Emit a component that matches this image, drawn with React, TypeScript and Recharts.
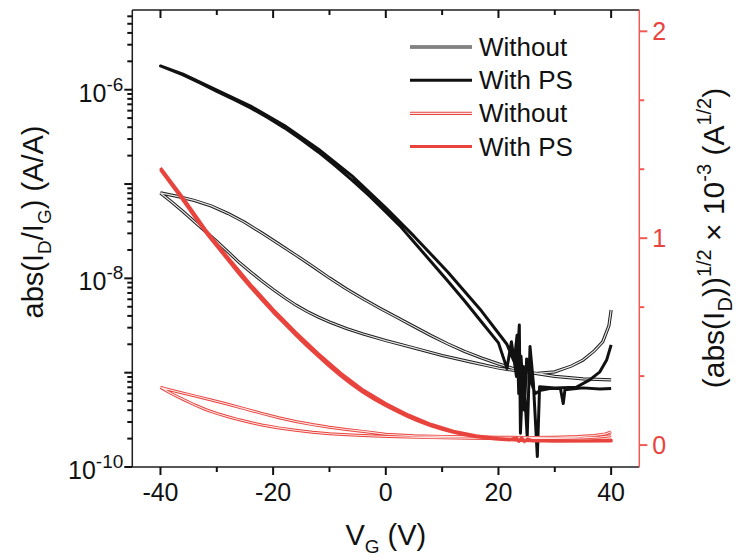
import React from 'react';
import { LineChart, Line, XAxis, YAxis, Legend, Label } from 'recharts';

const FONT = '"Liberation Sans", Arial, Helvetica, sans-serif';
const AXIS = '#1e1e1e';
const RED = '#e8433c';
const RED_AXIS = '#f05a55';

// ---- ticks ----
const xMajorTicks = [-40, -20, 0, 20, 40];
const xMinorTicks = [-30, -10, 10, 30];
const logMajorTicks = [1e-10, 1e-9, 1e-8, 1e-7, 1e-6];
const logLabelled = [-10, -8, -6];
const logMinorMantissas = [2, 3, 4, 5, 6, 7, 8, 9];
const rightMajorTicks = [0, 1, 2];
const rightMinorTicks = [1 / 3, 2 / 3, 4 / 3, 5 / 3];

// ---- series: black "Without" (left axis, log) : lower branch 40 -> -40, then upper branch -40 -> 40 ----
const blackWithoutV = [40, 39.6, 38.5, 37, 35, 33, 30, 27, 24, 20, 15, 10, 5, 0, -4, -7, -10, -12, -14, -16, -18, -20, -22, -24, -26, -28, -30, -32, -34, -36, -38, -40,
  -37, -34, -31, -28, -25, -22, -19, -16, -13, -10, -7, -4, -1, 2, 5, 8, 11, 14, 17, 20, 23, 26, 30, 35, 40];
const blackWithoutY = [4.62e-9, 3.13e-9, 2.12e-9, 1.70e-9, 1.36e-9, 1.18e-9, 1.02e-9, 9.81e-10, 1.03e-9, 1.12e-9, 1.30e-9, 1.52e-9, 1.83e-9, 2.19e-9, 2.57e-9, 2.94e-9, 3.45e-9, 3.90e-9, 4.46e-9, 5.22e-9, 6.27e-9, 7.63e-9, 9.38e-9, 1.17e-8, 1.47e-8, 1.91e-8, 2.46e-8, 3.14e-8, 4.01e-8, 5.12e-8, 6.46e-8, 8.05e-8,
  7.39e-8, 6.70e-8, 5.86e-8, 4.88e-8, 3.92e-8, 3.03e-8, 2.32e-8, 1.77e-8, 1.34e-8, 1.01e-8, 7.72e-9, 6.05e-9, 4.80e-9, 3.85e-9, 3.09e-9, 2.48e-9, 2.02e-9, 1.68e-9, 1.43e-9, 1.24e-9, 1.09e-9, 9.93e-10, 9.12e-10, 8.58e-10, 8.37e-10];

// ---- series: black "With PS" (left axis, log) ----
const blackPsV = [40, 39.2, 38, 36.2, 33.8, 30, 27.3, 26.9, 26.2, 25.6, 25.1, 24.4, 23.9, 23.7, 23.2, 22.3, 21.5,
  20, 17, 14, 11, 8, 5, 2.5, 0, -3, -6, -9, -12, -15, -18, -21, -24, -27, -30, -33, -36, -40,
  -36, -30, -24, -18, -12, -6, 0, 5, 11, 17, 21.5, 22.8, 23.3, 23.6, 24.0, 24.6, 25.0, 25.8, 26.5, 27.5, 29.1, 31.0, 31.5, 31.8, 35, 38, 40];
const blackPsY = [1.97e-9, 1.36e-9, 1.02e-9, 8.4e-10, 7.0e-10, 6.9e-10, 7.1e-10, 1.29e-10, 7.7e-10, 1.89e-9, 2.1e-10, 1.16e-9, 2.28e-10, 3.2e-9, 9.1e-10, 2.13e-9, 1.11e-9,
  2.07e-9, 3.45e-9, 5.75e-9, 9.37e-9, 1.51e-8, 2.43e-8, 3.60e-8, 5.06e-8, 7.57e-8, 1.10e-7, 1.57e-7, 2.19e-7, 2.97e-7, 3.94e-7, 5.08e-7, 6.41e-7, 7.88e-7, 9.6e-7, 1.18e-6, 1.435e-6, 1.786e-6,
  1.46e-6, 9.9e-7, 6.7e-7, 4.18e-7, 2.36e-7, 1.22e-7, 5.6e-8, 2.8e-8, 1.17e-8, 4.5e-9, 2.0e-9, 1.3e-9, 2.5e-9, 6e-10, 1.5e-9, 4e-10, 1.4e-9, 8e-10, 6e-10, 6.5e-10, 6.8e-10, 6.8e-10, 4.7e-10, 6.6e-10, 6.9e-10, 6.7e-10, 6.8e-10];

// ---- series: red "Without" (right axis) : lower branch 40 -> -40, upper branch -40 -> 40 ----
const redWithoutV = [40, 38, 35, 30, 22, 15, 8, 2, -2, -6, -10, -13, -16, -19, -22, -24, -26, -28, -30, -32, -34, -36, -38, -40,
  -37, -34, -31, -28, -25, -22, -19, -16, -13, -10, -7, -4, 0, 5, 10, 15, 20, 25, 30, 34, 37, 39, 40];
const redWithoutY = [0.045, 0.039, 0.035, 0.032, 0.031, 0.033, 0.036, 0.04, 0.044, 0.049, 0.055, 0.062, 0.072, 0.083, 0.097, 0.109, 0.122, 0.137, 0.153, 0.172, 0.195, 0.221, 0.248, 0.279,
  0.258, 0.238, 0.218, 0.197, 0.175, 0.153, 0.132, 0.114, 0.099, 0.086, 0.075, 0.066, 0.052, 0.045, 0.042, 0.04, 0.038, 0.037, 0.038, 0.041, 0.046, 0.054, 0.064];

// ---- series: red "With PS" (right axis) ----
const redPsV = [-40, -38, -36, -34, -31.8, -30, -28, -25.9, -24, -22, -20, -18, -16, -14, -12, -10, -8, -6, -4, -2, 0, 2, 4, 6, 8, 10, 12, 14, 16, 18, 20, 22, 23.2, 23.6, 24.1, 24.6, 25.2, 26, 28, 32, 36, 40,
  40, 30, 24, 20, 16, 12, 8, 4, 0, -4, -8, -12, -16, -20, -24, -28, -32, -36, -40];
const redPsY = [1.332, 1.258, 1.184, 1.107, 1.023, 0.962, 0.895, 0.823, 0.763, 0.703, 0.643, 0.588, 0.533, 0.48, 0.43, 0.381, 0.335, 0.293, 0.255, 0.221, 0.191, 0.163, 0.137, 0.114, 0.094, 0.077, 0.062, 0.05, 0.041, 0.034, 0.029, 0.025, 0.035, 0.018, 0.034, 0.016, 0.03, 0.02, 0.021, 0.02, 0.021, 0.024,
  0.02, 0.019, 0.022, 0.031, 0.045, 0.067, 0.1, 0.145, 0.2, 0.265, 0.347, 0.442, 0.545, 0.655, 0.775, 0.905, 1.04, 1.195, 1.34];

const legendLabels = ['Without', 'With PS', 'Without', 'With PS'];

const zip = (vs: number[], ys: number[]) => vs.map((v, i) => ({ v, y: ys[i] }));
const blackWithout = zip(blackWithoutV, blackWithoutY);
const blackPs = zip(blackPsV, blackPsY);
const redWithout = zip(redWithoutV, redWithoutY);
const redPs = zip(redPsV, redPsY);

const logMinorTicks: number[] = [];
logMajorTicks.forEach((d) => logMinorMantissas.forEach((m) => {
  const t = m * d;
  if (t < 7.0e-6) logMinorTicks.push(t);
}));

const AXIS_LINE = { stroke: AXIS, strokeWidth: 1.5 };
const RED_AXIS_LINE = { stroke: RED_AXIS, strokeWidth: 1.5 };

// axis ticks: each tick component draws its own tick mark plus (for majors) its label
const BottomTick = (props: any) => {
  const { x, y, payload } = props;
  const major = xMajorTicks.includes(payload.value);
  return (
    <g>
      <path d={`M${x},${y}V${y + (major ? 8 : 5)}`} stroke="#111" strokeWidth={2} fill="none" />
      {major && (
        <text x={x} y={y + 34} textAnchor="middle" fontSize={25} fontFamily={FONT} fill="#111">
          {payload.value}
        </text>
      )}
    </g>
  );
};

const TopTick = (props: any) => {
  const { x, y, payload } = props;
  const major = xMajorTicks.includes(payload.value);
  return <path d={`M${x},${y}V${y + (major ? 8 : 5)}`} stroke="#111" strokeWidth={2} fill="none" />;
};

const LeftTick = (props: any) => {
  const { x, y, payload } = props;
  const e = Math.log10(payload.value);
  const re = Math.round(e);
  const major = Math.abs(e - re) < 1e-6;
  return (
    <g>
      <path d={`M${x},${y}H${x - (major ? 8 : 5)}`} stroke="#111" strokeWidth={2} fill="none" />
      {major && logLabelled.includes(re) && (
        <text x={x - 9} y={y + 12} textAnchor="end" fontSize={25} fontFamily={FONT} fill="#111">
          10
          <tspan dy={-11} fontSize={19}>{re}</tspan>
        </text>
      )}
    </g>
  );
};

const RightTick = (props: any) => {
  const { x, y, payload } = props;
  const v = payload.value;
  const major = rightMajorTicks.some((t) => Math.abs(t - v) < 1e-9);
  return (
    <g>
      <path d={`M${x},${y}H${x + (major ? 8 : 5)}`} stroke={RED_AXIS} strokeWidth={2} fill="none" />
      {major && (
        <text x={x + 13} y={y + 9} textAnchor="start" fontSize={25} fontFamily={FONT} fill={RED}>
          {Math.round(v)}
        </text>
      )}
    </g>
  );
};

const XTitle = () => (
  <text x={385.8} y={545} textAnchor="middle" fontSize={29} fontFamily={FONT} fill="#111">
    V<tspan dy={8} fontSize={19}>G</tspan>
    <tspan dy={-8}> (V)</tspan>
  </text>
);

const LeftTitle = () => (
  <text x={43} y={222} transform="rotate(-90, 43, 222)" textAnchor="middle" fontSize={29} fontFamily={FONT} fill="#111">
    abs(I<tspan dy={8} fontSize={19}>D</tspan>
    <tspan dy={-8}>/I</tspan>
    <tspan dy={8} fontSize={19}>G</tspan>
    <tspan dy={-8}>) (A/A)</tspan>
  </text>
);

const RightTitle = () => (
  <text x={724} y={238} transform="rotate(-90, 724, 238)" textAnchor="middle" fontSize={30} fontFamily={FONT} fill="#111">
    (abs(I<tspan dy={8} fontSize={20}>D</tspan>
    <tspan dy={-8}>))</tspan>
    <tspan dy={-13} fontSize={20}>1/2</tspan>
    <tspan dy={13}> × 10</tspan>
    <tspan dy={-13} fontSize={20}>-3</tspan>
    <tspan dy={13}> (A</tspan>
    <tspan dy={-13} fontSize={20}>1/2</tspan>
    <tspan dy={13}>)</tspan>
  </text>
);

const legendStyles = [
  { outer: AXIS, inner: '#e4e4e4' },
  { outer: '#111', inner: null },
  { outer: RED, inner: '#fde6e5' },
  { outer: RED, inner: null },
];

const renderLegend = () => (
  <svg width={240} height={140} style={{ display: 'block' }}>
    {legendLabels.map((lab, i) => {
      const y = 22 + i * 33.2;
      const st = legendStyles[i];
      return (
        <g key={i}>
          <line x1={10} x2={72} y1={y} y2={y} stroke={st.outer} strokeWidth={st.inner ? 3.2 : 3} />
          {st.inner && <line x1={10} x2={72} y1={y} y2={y} stroke={st.inner} strokeWidth={1.2} />}
          <text x={79} y={y + 9} fontSize={26} fontFamily={FONT} fill="#111">
            {lab}
          </text>
        </g>
      );
    })}
  </svg>
);

const xAllTicks = [...xMajorTicks, ...xMinorTicks].sort((a, b) => a - b);
const logAllTicks = [...logMajorTicks, ...logMinorTicks].sort((a, b) => a - b);
const rightAllTicks = [...rightMajorTicks, ...rightMinorTicks].sort((a, b) => a - b);

const HIDDEN = { stroke: 'transparent', strokeWidth: 0, dot: false, isAnimationActive: false, legendType: 'none' as const };

export default function App() {
  return (
    <div style={{ position: 'absolute', left: 0, top: 0, width: 738, height: 558, background: '#fff' }}>
      <LineChart width={738} height={558} margin={{ top: 0, right: 38.7, bottom: 31, left: 52.3 }}>
        <XAxis xAxisId="b" type="number" dataKey="v" domain={[-45, 45]} ticks={xAllTicks} interval={0} allowDataOverflow
          height={60} tickSize={0} tickMargin={0} tickLine={false} tick={<BottomTick />} axisLine={AXIS_LINE}>
          <Label content={<XTitle />} />
        </XAxis>
        <XAxis xAxisId="t" orientation="top" type="number" dataKey="v" domain={[-45, 45]} ticks={xAllTicks} interval={0} allowDataOverflow
          height={10} tickSize={0} tickMargin={0} tickLine={false} tick={<TopTick />} axisLine={AXIS_LINE} />
        <YAxis yAxisId="l" scale="log" type="number" domain={[1e-10, 7.0e-6]} ticks={logAllTicks} interval={0} allowDataOverflow
          width={80} tickSize={0} tickMargin={0} tickLine={false} tick={<LeftTick />} axisLine={AXIS_LINE}>
          <Label content={<LeftTitle />} />
        </YAxis>
        <YAxis yAxisId="r" orientation="right" type="number" domain={[-0.106, 2.103]} ticks={rightAllTicks} interval={0} allowDataOverflow
          width={60} tickSize={0} tickMargin={0} tickLine={false} tick={<RightTick />} axisLine={RED_AXIS_LINE}>
          <Label content={<RightTitle />} />
        </YAxis>

        <Legend layout="vertical" align="center" verticalAlign="middle"
          wrapperStyle={{ left: 400, top: 25, width: 240, height: 140 }} content={renderLegend} />

        {/* invisible series binding the top axis so that it gets its ticks */}
        <Line xAxisId="t" yAxisId="r" data={redPs} dataKey="y" {...HIDDEN} />

        <Line xAxisId="b" yAxisId="l" data={blackWithout} dataKey="y" type="linear" stroke={AXIS} strokeWidth={3.2} dot={false} isAnimationActive={false} legendType="none" />
        <Line xAxisId="b" yAxisId="l" data={blackWithout} dataKey="y" type="linear" stroke="#e4e4e4" strokeWidth={1.2} dot={false} isAnimationActive={false} legendType="none" />
        <Line xAxisId="b" yAxisId="l" data={blackPs} dataKey="y" type="linear" stroke="#111" strokeWidth={3} strokeLinejoin="round" dot={false} isAnimationActive={false} legendType="none" />
        <Line xAxisId="b" yAxisId="r" data={redWithout} dataKey="y" type="linear" stroke={RED} strokeWidth={3} dot={false} isAnimationActive={false} legendType="none" />
        <Line xAxisId="b" yAxisId="r" data={redWithout} dataKey="y" type="linear" stroke="#fde6e5" strokeWidth={1.1} dot={false} isAnimationActive={false} legendType="none" />
        <Line xAxisId="b" yAxisId="r" data={redPs} dataKey="y" type="linear" stroke={RED} strokeWidth={3.2} strokeLinejoin="round" dot={false} isAnimationActive={false} legendType="none" />
      </LineChart>
    </div>
  );
}
